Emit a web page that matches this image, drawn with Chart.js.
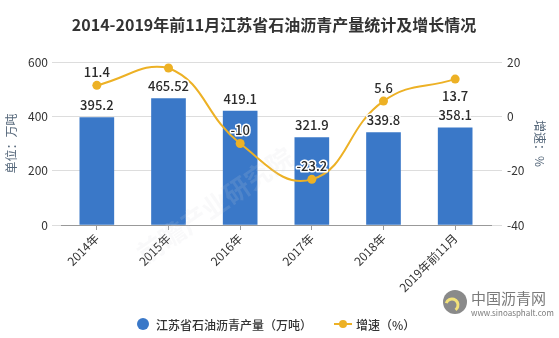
<!DOCTYPE html>
<html>
<head>
<meta charset="utf-8">
<script src="https://cdn.jsdelivr.net/npm/chart.js@4/dist/chart.umd.min.js"></script>
<style>
  html, body { margin: 0; padding: 0; background: #fff; }
  #wrap { width: 559px; height: 338px; position: relative; }
</style>
</head>
<body>
<div id="wrap"><canvas id="grafico" width="559" height="338"></canvas></div>
<script>
// Datos del gráfico
const categorias = ['2014年', '2015年', '2016年', '2017年', '2018年', '2019年前11月'];
const produccion = [395.2, 465.52, 419.1, 321.9, 339.8, 358.1];
const crecimiento = [11.4, 17.8, -10, -23.2, 5.6, 13.7];
const etiquetasCrecimiento = ['11.4', null, '-10', '-23.2', '5.6', '13.7'];
const ticksIzq = [0, 200, 400, 600];
const ticksDer = [-40, -20, 0, 20];

const FUENTE = '"Microsoft YaHei", "Noto Sans CJK SC", sans-serif';
const AZUL = '#3a78c8';
const ORO = '#edb125';

// Texto con borde blanco
function textoConBorde(ctx, txt, x, y) {
  ctx.lineWidth = 3;
  ctx.strokeStyle = '#fff';
  ctx.lineJoin = 'round';
  ctx.strokeText(txt, x, y);
  ctx.fillStyle = '#2b2b2b';
  ctx.fillText(txt, x, y);
}

// Plugin: título, etiquetas de ejes, leyenda, valores y marca de agua
const extras = {
  id: 'extras',
  afterDatasetsDraw(chart) {
    const ctx = chart.ctx;
    ctx.save();
    ctx.font = '500 13px ' + FUENTE;
    ctx.textAlign = 'center';
    ctx.textBaseline = 'bottom';

    // valores de las barras
    chart.getDatasetMeta(1).data.forEach((el, i) => {
      textoConBorde(ctx, String(produccion[i]), el.x, el.y - 6);
    });
    // valores de la línea (el último va debajo del punto)
    chart.getDatasetMeta(0).data.forEach((el, i) => {
      const t = etiquetasCrecimiento[i];
      if (!t) return;
      if (i === crecimiento.length - 1) {
        textoConBorde(ctx, t, el.x, el.y + 23);
      } else {
        textoConBorde(ctx, t, el.x, el.y - 7);
      }
    });
    ctx.restore();
  },
  afterDraw(chart) {
    const ctx = chart.ctx;
    const area = chart.chartArea;
    ctx.save();

    // título
    ctx.font = 'bold 16px ' + FUENTE;
    ctx.fillStyle = '#333';
    ctx.textAlign = 'center';
    ctx.textBaseline = 'middle';
    ctx.fillText('2014-2019年前11月江苏省石油沥青产量统计及增长情况', 274, 25);

    // títulos de ejes
    const medio = (area.top + area.bottom) / 2;
    ctx.font = '12px ' + FUENTE;
    ctx.fillStyle = '#55677a';
    ctx.save();
    ctx.translate(11, medio);
    ctx.rotate(-Math.PI / 2);
    ctx.fillText('单位：万吨', 0, 0);
    ctx.restore();
    ctx.save();
    ctx.translate(540, medio);
    ctx.rotate(Math.PI / 2);
    ctx.fillText('增速：%', 0, 0);
    ctx.restore();

    // leyenda
    ctx.font = '500 12px ' + FUENTE;
    ctx.fillStyle = AZUL;
    ctx.beginPath();
    ctx.arc(143, 324, 6, 0, Math.PI * 2);
    ctx.fill();
    ctx.fillStyle = '#333';
    ctx.textAlign = 'left';
    ctx.fillText('江苏省石油沥青产量（万吨）', 156, 325);

    ctx.strokeStyle = ORO;
    ctx.lineWidth = 2;
    ctx.beginPath();
    ctx.moveTo(334, 324);
    ctx.lineTo(352, 324);
    ctx.stroke();
    ctx.fillStyle = ORO;
    ctx.beginPath();
    ctx.arc(343, 324, 4, 0, Math.PI * 2);
    ctx.fill();
    ctx.fillStyle = '#333';
    ctx.fillText('增速（%）', 356, 325);

    // logotipo inferior derecho
    ctx.fillStyle = '#8a8a8a';
    ctx.beginPath();
    ctx.arc(455, 302, 12, 0, Math.PI * 2);
    ctx.fill();
    ctx.strokeStyle = '#f3e27a';
    ctx.lineWidth = 3;
    ctx.beginPath();
    ctx.arc(452, 305, 6, -Math.PI * 0.9, Math.PI * 0.3);
    ctx.stroke();
    ctx.fillStyle = '#7a7a7a';
    ctx.font = '15px ' + FUENTE;
    ctx.fillText('中国沥青网', 471, 298);
    ctx.font = '8px ' + FUENTE;
    ctx.fillText('www.sinoasphalt.com', 471, 313);

    // marca de agua tenue
    ctx.save();
    ctx.translate(215, 205);
    ctx.rotate(-0.6);
    ctx.font = 'bold 26px ' + FUENTE;
    ctx.fillStyle = 'rgba(215, 215, 220, 0.14)';
    ctx.textAlign = 'center';
    ctx.fillText('前瞻产业研究院', 0, 0);
    ctx.restore();

    ctx.restore();
  }
};

const ctx = document.getElementById('grafico').getContext('2d');
const miGrafico = new Chart(ctx, {
  type: 'bar',
  data: {
    labels: categorias,
    datasets: [
      {
        type: 'line',
        label: '增速（%）',
        data: crecimiento,
        yAxisID: 'y1',
        borderColor: ORO,
        backgroundColor: ORO,
        borderWidth: 2,
        pointRadius: 4.5,
        pointBackgroundColor: ORO,
        pointBorderWidth: 0,
        tension: 0.45,
        order: 0
      },
      {
        type: 'bar',
        label: '江苏省石油沥青产量（万吨）',
        data: produccion,
        yAxisID: 'y',
        backgroundColor: AZUL,
        barThickness: 34,
        order: 1
      }
    ]
  },
  plugins: [extras],
  options: {
    responsive: false,
    animation: false,
    devicePixelRatio: 1,
    layout: { padding: { top: 62, bottom: 40, left: 0, right: 0 } },
    plugins: { legend: { display: false }, tooltip: { enabled: false } },
    scales: {
      x: {
        grid: {
          display: true, drawOnChartArea: false, drawTicks: true,
          tickLength: 5, offset: false, color: '#999'
        },
        border: { color: '#999' },
        ticks: {
          minRotation: 45, maxRotation: 45, padding: 1,
          color: '#333', font: { size: 12, family: FUENTE }
        },
        afterFit(s) { s.height = 73; }
      },
      y: {
        position: 'left',
        min: 0, max: 600,
        afterBuildTicks(s) { s.ticks = ticksIzq.map(v => ({ value: v })); },
        grid: { color: '#ddd', tickLength: 9 },
        border: { display: false },
        ticks: { padding: 4, color: '#333', font: { size: 12, family: FUENTE } },
        afterFit(s) { s.width = 61; }
      },
      y1: {
        position: 'right',
        min: -40, max: 20,
        afterBuildTicks(s) { s.ticks = ticksDer.map(v => ({ value: v })); },
        grid: { drawOnChartArea: false, color: '#ddd', tickLength: 11 },
        border: { display: false },
        ticks: { padding: 5, color: '#333', font: { size: 12, family: FUENTE } },
        afterFit(s) { s.width = 68; }
      }
    }
  }
});
</script>
</body>
</html>
